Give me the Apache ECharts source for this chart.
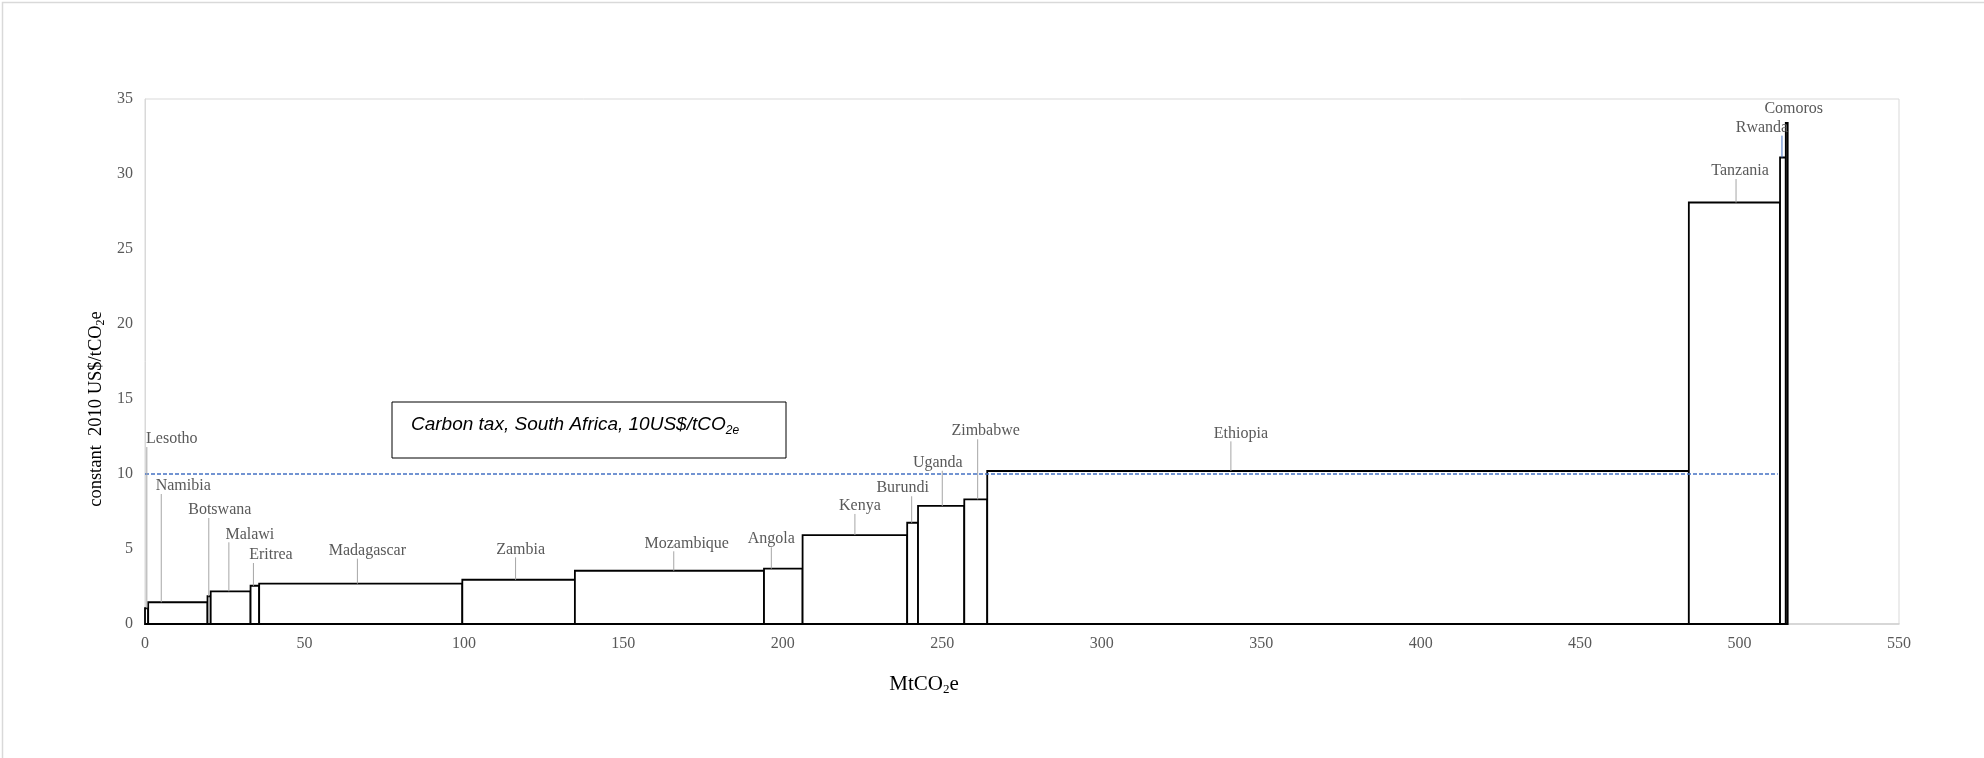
<!DOCTYPE html>
<html><head><meta charset="utf-8">
<script src="https://cdn.jsdelivr.net/npm/echarts/dist/echarts.min.js"></script>
<style>html,body{margin:0;padding:0;background:#fff}#c{width:1984px;height:758px}</style>
</head><body><div id="c"></div>
<script>
// ---- data ----
const countries = ['Lesotho','Namibia','Botswana','Malawi','Eritrea','Madagascar','Zambia','Mozambique','Angola','Kenya','Burundi','Uganda','Zimbabwe','Ethiopia','Tanzania','Rwanda','Comoros'];
const emissions = [1.0, 18.6, 1.0, 12.5, 2.7, 63.7, 35.3, 59.3, 12.1, 32.8, 3.4, 14.5, 7.2, 220.0, 28.6, 1.8, 0.6]; // MtCO2e (bar widths)
const prices = [1.05, 1.45, 1.85, 2.18, 2.55, 2.69, 2.95, 3.55, 3.69, 5.93, 6.75, 7.87, 8.31, 10.2, 28.1, 31.1, 33.4]; // constant 2010 US$/tCO2e
const taxLevel = 10;
const taxLineEnd = 512.0;
const xTickMax = 550, xTickStep = 50;
const yTickMax = 35, yTickStep = 5;

// ---- label layout (leader x in axis units, label centre height in axis units, text shift in px) ----
const labelAnchorX = [0.57, 5.1, 20.0, 26.3, 34.0, 66.6, 116.2, 165.8, 196.4, 222.6, 240.4, 250.0, 261.1, 340.5, 498.9, 513.3, 514.8];
const labelHeight = [12.33, 9.2, 7.6, 5.98, 4.6, 4.89, 4.98, 5.38, 5.65, 7.87, 9.05, 10.75, 12.85, 12.71, 30.2, 33.09, 34.33];
const labelShift = [25, 22, 11, 21, 17.5, 10, 5, 13, 0, 5, -9, -4.5, 8, 10, 4, -20, 7];

// build bar table from data
const bars = [];
let acc = 0;
for (let i = 0; i < countries.length; i++) {
  bars.push([acc, acc + emissions[i], prices[i], i]);
  acc += emissions[i];
}
const labelData = countries.map((c, i) => [labelAnchorX[i], labelHeight[i], prices[i], i]);

const serif = 'Liberation Serif';
const chart = echarts.init(document.getElementById('c'));
chart.setOption({
  animation: false,
  backgroundColor: '#fff',
  grid: { left: 145, right: 85, top: 99, bottom: 134, show: true, borderColor: '#d9d9d9', borderWidth: 1 },
  xAxis: {
    type: 'value', min: 0, max: xTickMax, interval: xTickStep,
    axisLine: { show: true, lineStyle: { color: '#d0d0d0', width: 1.5 } },
    axisTick: { show: false }, splitLine: { show: false },
    axisLabel: { color: '#595959', fontFamily: serif, fontSize: 16, margin: 12 }
  },
  yAxis: {
    type: 'value', min: 0, max: yTickMax, interval: yTickStep,
    axisLine: { show: true, lineStyle: { color: '#d9d9d9', width: 1 } },
    axisTick: { show: false }, splitLine: { show: false },
    axisLabel: { color: '#595959', fontFamily: serif, fontSize: 16, margin: 12 }
  },
  series: [
    {
      type: 'custom', name: 'MAC',
      data: bars,
      encode: { x: [0, 1], y: 2 },
      z: 2,
      renderItem: function (params, api) {
        const x0 = api.value(0), x1 = api.value(1), p = api.value(2);
        const a = api.coord([x0, p]), b = api.coord([x1, 0]);
        return {
          type: 'rect',
          shape: { x: a[0], y: a[1], width: b[0] - a[0], height: b[1] - a[1] },
          style: { fill: '#fff', stroke: '#000', lineWidth: 1.8 }
        };
      }
    },
    {
      type: 'line', name: 'tax',
      data: [[0, taxLevel], [taxLineEnd, taxLevel]],
      symbol: 'none', z: 4,
      lineStyle: { color: '#4472c4', width: 1.3, type: [4, 2] }
    },
    {
      type: 'custom', name: 'labels',
      data: labelData,
      encode: { x: 0, y: 1 },
      z: 5,
      renderItem: function (params, api) {
        const idx = api.value(3);
        const lp = api.coord([api.value(0), api.value(1)]);
        const bp = api.coord([api.value(0), api.value(2)]);
        const children = [];
        const top = lp[1] + 8;
        if (bp[1] - top > 8) {
          children.push({
            type: 'line',
            shape: { x1: lp[0], y1: top, x2: bp[0], y2: bp[1] },
            style: { stroke: countries[idx] === 'Rwanda' ? '#4472c4' : '#a6a6a6', lineWidth: 1 }
          });
        }
        children.push({
          type: 'text',
          style: {
            text: countries[idx], x: lp[0] + labelShift[idx], y: lp[1],
            align: 'center', verticalAlign: 'middle',
            fill: '#595959', font: '16px "Liberation Serif"'
          }
        });
        return { type: 'group', children: children };
      }
    }
  ],
  graphic: [
    { type: 'rect', left: 0, top: 0, shape: { x: 0.75, y: 0.75, width: 1982.5, height: 756.5 },
      style: { fill: 'none', stroke: '#d9d9d9', lineWidth: 1.5 }, silent: true, z: 0 },
    { type: 'rect', shape: { x: 392, y: 402, width: 394, height: 56 }, position: [0, 0],
      style: { fill: '#fff', stroke: '#000', lineWidth: 1 }, z: 10 },
    { type: 'text', x: 411, y: 425, z: 11,
      style: {
        text: '{a|Carbon tax, South Africa, 10US$/tCO}{s|2e}',
        verticalAlign: 'middle', align: 'left',
        rich: {
          a: { fontFamily: 'Liberation Sans', fontStyle: 'italic', fontSize: 19, color: '#000', lineHeight: 24 },
          s: { fontFamily: 'Liberation Sans', fontStyle: 'italic', fontSize: 12, color: '#000', lineHeight: 14, verticalAlign: 'bottom' }
        }
      } },
    { type: 'text', x: 96, y: 409, rotation: Math.PI / 2, z: 10,
      style: {
        text: '{a|constant  2010 US$/tCO}{s|2}{a|e}',
        align: 'center', verticalAlign: 'middle',
        rich: {
          a: { fontFamily: serif, fontSize: 18.5, color: '#595959', lineHeight: 22 },
          s: { fontFamily: serif, fontSize: 12, color: '#595959', lineHeight: 13, verticalAlign: 'bottom' }
        }
      } },
    { type: 'text', x: 924, y: 684, z: 10,
      style: {
        text: '{a|MtCO}{s|2}{a|e}',
        align: 'center', verticalAlign: 'middle',
        rich: {
          a: { fontFamily: serif, fontSize: 21, color: '#595959', lineHeight: 24 },
          s: { fontFamily: serif, fontSize: 13, color: '#595959', lineHeight: 14, verticalAlign: 'bottom' }
        }
      } }
  ]
});
</script>
</body></html>
